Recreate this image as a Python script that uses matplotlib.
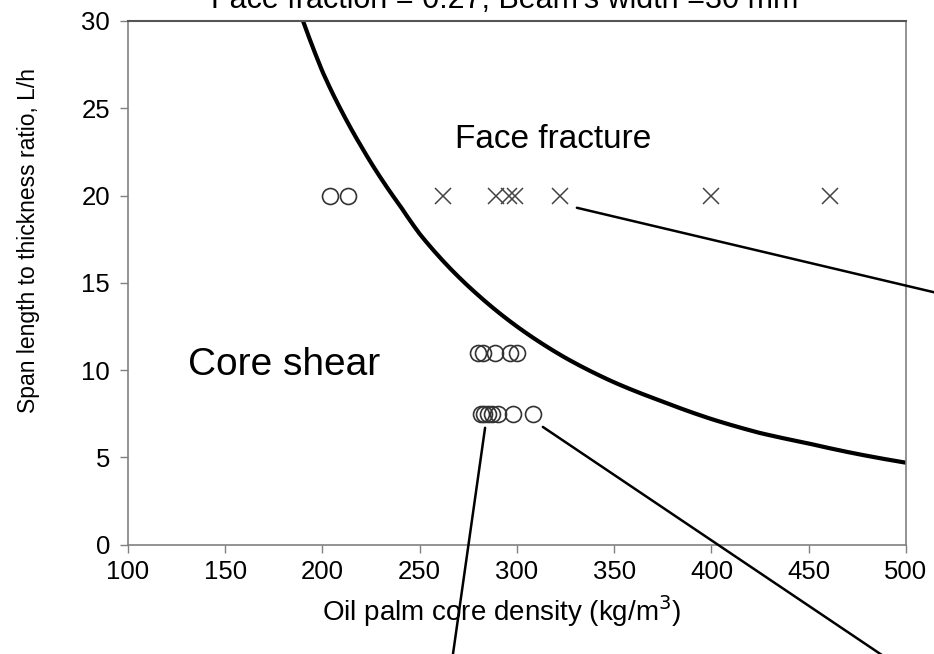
import numpy as np
import matplotlib
matplotlib.use("Agg")
import matplotlib.pyplot as plt

plt.rcParams['font.family'] = ['Liberation Sans', 'DejaVu Sans']

# failure-mode boundary (face fracture above, core shear below)
boundary_density = [190, 195, 200, 205, 210, 220, 230, 240, 250, 265, 280, 300, 325, 350, 375, 400, 425, 450, 475, 500]
boundary_lh = [30.0, 28.5, 27.1, 25.9, 24.8, 22.8, 21.0, 19.4, 17.8, 15.9, 14.3, 12.5, 10.7, 9.3, 8.2, 7.2, 6.4, 5.8, 5.2, 4.7]

# specimens that failed by core shear
shear_density = [204, 213, 280, 282.6, 288.7, 296.4, 300, 281.5, 283, 285, 287, 290, 298, 308]
shear_lh = [20, 20, 11, 11, 11, 11, 11, 7.5, 7.5, 7.5, 7.5, 7.5, 7.5, 7.5]

# specimens that failed by face fracture
fracture_density = [262, 289, 296, 299, 322, 400, 461]
fracture_lh = [20, 20, 20, 20, 20, 20, 20]

fig = plt.figure(figsize=(9.34, 6.54), dpi=100)
ax = fig.add_axes([0.137, 0.167, 0.833, 0.801])

# smooth the boundary between the read points
xs = np.linspace(boundary_density[0], boundary_density[-1], 300)
ys = np.interp(np.log(xs), np.log(boundary_density), np.log(boundary_lh))
ax.plot(xs, np.exp(ys), color='black', lw=3, solid_capstyle='butt')
ax.plot(shear_density, shear_lh, 'o', ms=11.5, mfc='none', mec='#333333', mew=1.2, ls='none')
ax.plot(fracture_density, fracture_lh, 'x', ms=12, mec='#444444', mew=1.1, ls='none')

ax.set_xlim(100, 500)
ax.set_ylim(0, 30)
ax.set_xticks(np.arange(100, 501, 50))
ax.set_yticks(np.arange(0, 31, 5))
ax.tick_params(direction='out', length=6, width=1, color='#808080', labelsize=18.5)
ax.tick_params(axis='x', pad=5)
ax.tick_params(axis='y', pad=7)
for side in ['left', 'right', 'bottom']:
    ax.spines[side].set_color('#808080')
    ax.spines[side].set_linewidth(1.2)
ax.spines['top'].set_color('#555555')
ax.spines['top'].set_linewidth(1.5)

ax.set_xlabel('Oil palm core density (kg/m$^3$)', fontsize=20)
ax.xaxis.set_label_coords(0.48, -0.093)
ax.set_ylabel('Span length to thickness ratio, L/h', fontsize=16.5)
ax.yaxis.set_label_coords(-0.113, 0.58)

ax.text(318.5, 23.2, 'Face fracture', fontsize=24, ha='center', va='center')
ax.text(180.5, 10.3, 'Core shear', fontsize=28, ha='center', va='center')

fig.text(0.54, 1 - 8 / 654, "Face fraction = 0.27, Beam's width =30 mm",
         fontsize=22, ha='center', va='baseline')

# leader lines to notes outside the plot
leaders = [((330.8, 19.3), (1.03, 0.543)),
           ((283.6, 6.7), (0.484, -0.01)),
           ((313.3, 6.75), (0.953, -0.01))]
for start, end in leaders:
    ax.annotate('', xy=start, xytext=end, textcoords='figure fraction',
                annotation_clip=False,
                arrowprops=dict(arrowstyle='-', color='black', lw=1.8,
                                shrinkA=0, shrinkB=0))

fig.savefig('out.png', dpi=100)
